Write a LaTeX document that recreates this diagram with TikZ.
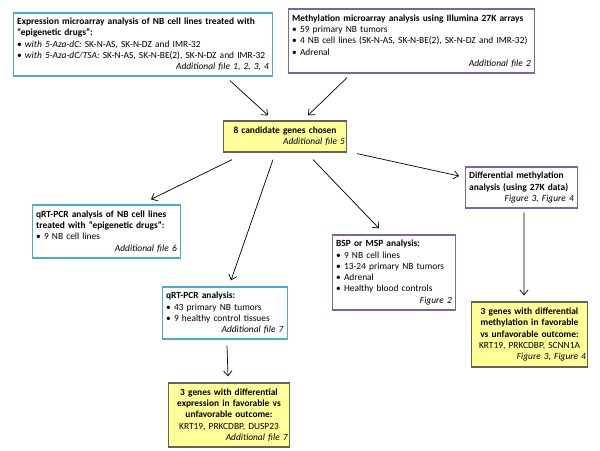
\documentclass[tikz,border=0pt]{standalone}
\usepackage{fontspec}
\setmainfont{Carlito}
\usepackage[svgnames, dvipsnames]{xcolor}
\usetikzlibrary{calc, arrows.meta}
\definecolor{aqua}{RGB}{75,172,198}
\definecolor{lilac}{RGB}{128,100,162}
\definecolor{paleyellow}{RGB}{255,255,153}
\definecolor{olivegray}{RGB}{100,100,85}
\hyphenpenalty=10000
\exhyphenpenalty=10000
\tikzset{>={Straight Barb[length=3.5pt,width=6pt]}}
\tikzset{
  box/.style={draw, line width=0.9pt, fill=white, align=left, inner xsep=2.5pt,
    inner ysep=2pt, font=\fontsize{6.7}{8}\selectfont},
  aquabox/.style={box, draw=aqua},
  lilacbox/.style={box, draw=lilac},
  yelbox/.style={box, draw=olivegray, fill=paleyellow, align=center, inner xsep=1pt},
  arr/.style={->, line width=0.5pt}
}
\newcommand{\srcline}[1]{\\\makebox[\linewidth][r]{\textit{#1}}}

\begin{document}
\begin{tikzpicture}[x=0.025cm, y=-0.025cm]
  \useasboundingbox (0,0) rectangle (600,451);
  \coordinate (E) at (143,44.5);
  \coordinate (M) at (411.5,41);
  \coordinate (C) at (285,136.5);
  \coordinate (Q1) at (106.5,231.5);
  \coordinate (D) at (521.5,187.5);
  \coordinate (B) at (394,272.5);
  \coordinate (Q2) at (225,313);
  \coordinate (Y1) at (229,415);
  \coordinate (Y2) at (529.5,334.5);

  % TOP ROW
  \node[aquabox, text width=6.29cm, minimum height=1.575cm] (expr) at (E)
    {\textbf{Expression microarray analysis of NB cell lines treated with}\\
     \textbf{“epigenetic drugs”:}\\
     • \textit{with 5-Aza-dC:} SK-N-AS, SK-N-DZ and IMR-32\\
     • \textit{with 5-Aza-dC/TSA:} SK-N-AS, SK-N-BE(2), SK-N-DZ and IMR-32
     \srcline{Additional file 1, 2, 3, 4}};
  \node[lilacbox, text width=5.965cm, minimum height=1.6cm] (meth) at (M)
    {\textbf{Methylation microarray analysis using Illumina 27K arrays}\\
     • 59 primary NB tumors\\
     • 4 NB cell lines (SK-N-AS, SK-N-BE(2), SK-N-DZ and IMR-32)\\
     • Adrenal
     \srcline{Additional file 2}};

  % CANDIDATES
  \node[yelbox, text width=3.0cm, minimum height=0.775cm] (cand) at (C)
    {\textbf{8 candidate genes chosen}
     \srcline{Additional file 5}};

  % VALIDATION
  \node[aquabox, text width=3.515cm, minimum height=1.325cm] (epi) at (Q1)
    {\textbf{qRT-PCR analysis of NB cell lines}\\
     \textbf{treated with “epigenetic drugs”:}\\
     • 9 NB cell lines
     \srcline{Additional file 6}};
  \node[lilacbox, text width=2.615cm, minimum height=1.025cm] (diff) at (D)
    {\textbf{Differential methylation}\\
     \textbf{analysis (using 27K data)}
     \srcline{Figure 3, Figure 4}};
  \node[lilacbox, text width=2.89cm, minimum height=1.875cm] (bsp) at (B)
    {\textbf{BSP or MSP analysis:}\\
     • 9 NB cell lines\\
     • 13-24 primary NB tumors\\
     • Adrenal\\
     • Healthy blood controls
     \srcline{Figure 2}};
  \node[aquabox, text width=2.94cm, minimum height=1.3cm] (qrt) at (Q2)
    {\textbf{qRT-PCR analysis:}\\
     • 43 primary NB tumors\\
     • 9 healthy control tissues
     \srcline{Additional file 7}};

  % RESULTS
  \node[yelbox, text width=2.95cm, minimum height=1.6cm] (expyel) at (Y1)
    {\textbf{3 genes with differential}\\
     \textbf{expression in favorable vs}\\
     \textbf{unfavorable outcome:}\\
     KRT19, PRKCDBP, DUSP23
     \srcline{Additional file 7}};
  \node[yelbox, text width=2.825cm, minimum height=1.625cm] (methyel) at (Y2)
    {\textbf{3 genes with differential}\\
     \textbf{methylation in favorable}\\
     \textbf{vs unfavorable outcome:}\\
     KRT19, PRKCDBP, SCNN1A
     \srcline{Figure 3, Figure 4}};

  \draw[arr] ([shift={(-43,4)}]expr.south east) -- ([shift={(-17,-5)}]cand.north);
  \draw[arr] ([shift={(59,4)}]meth.south west) -- ([shift={(23,-5)}]cand.north);
  \draw[arr] ([shift={(-53,7)}]cand.south) -- ([shift={(44.5,-5)}]epi.north);
  \draw[arr] ([shift={(-12,7)}]cand.south) -- ([shift={(6,-6)}]qrt.north);
  \draw[arr] ([shift={(28,7)}]cand.south) -- ([shift={(-15,-6)}]bsp.north);
  \draw[arr] ([shift={(10,1)}]cand.south east) -- ([shift={(-6,-11.5)}]diff.west);
  \draw[arr] ([shift={(2.5,4)}]diff.south) -- ([shift={(-5.5,-6)}]methyel.north);
  \draw[arr] ([shift={(2,6)}]qrt.south) -- ([shift={(-1,-6)}]expyel.north);
\end{tikzpicture}
\end{document}
